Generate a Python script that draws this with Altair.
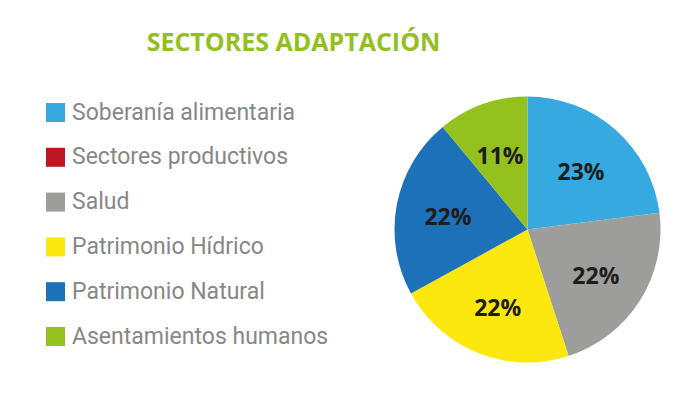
import altair as alt
import pandas as pd

titulo = "SECTORES ADAPTACIÓN"
sectores = ["Soberanía alimentaria", "Sectores productivos", "Salud",
            "Patrimonio Hídrico", "Patrimonio Natural", "Asentamientos humanos"]
porcentajes = [23, 0, 22, 22, 22, 11]
colores = ["#36a9e1", "#be1622", "#9d9d9c", "#fce80f", "#1d71b8", "#95c11f"]

df = pd.DataFrame({
    "sector": sectores,
    "valor": porcentajes,
    "orden": list(range(len(sectores))),
    "etiqueta": [f"{v}%" for v in porcentajes],
})

cx, cy = 519.5, 221.5

base = alt.Chart(df).encode(
    theta=alt.Theta("valor:Q", stack=True),
    order=alt.Order("orden:Q"),
)

arcs = base.mark_arc(outerRadius=133, strokeWidth=0).encode(
    color=alt.Color(
        "sector:N",
        scale=alt.Scale(domain=sectores, range=colores),
        sort=sectores,
        legend=alt.Legend(
            title=None,
            orient="none",
            legendX=36,
            legendY=93,
            symbolType="square",
            symbolSize=361,
            symbolStrokeWidth=0,
            labelFontSize=23,
            labelFont="Roboto",
            labelColor="#878787",
            labelOffset=5,
            rowPadding=20.8,
            labelLimit=400,
        ),
    ),
    x=alt.value(cx),
    y=alt.value(cy),
)

labels = base.mark_text(
    radius=81, dy=4, font="Open Sans", fontWeight="bold", fontSize=23, color="#1d1d1b"
).encode(
    text="etiqueta:N",
    x=alt.value(cx),
    y=alt.value(cy),
).transform_filter(alt.datum.valor > 0)

title_df = pd.DataFrame({"t": [titulo]})
title = alt.Chart(title_df).mark_text(
    font="Open Sans", fontWeight="bold", fontSize=25, color="#93c01f", baseline="alphabetic"
).encode(text="t:N", x=alt.value(285.5), y=alt.value(43))

chart = alt.layer(arcs, labels, title).properties(
    width=678, height=378,
    autosize=alt.AutoSizeParams(type="none"),
    padding=0,
    background="white",
).configure_view(strokeWidth=0, stroke="transparent")

chart.save("out.html", embed_options={"renderer": "svg", "actions": False})
